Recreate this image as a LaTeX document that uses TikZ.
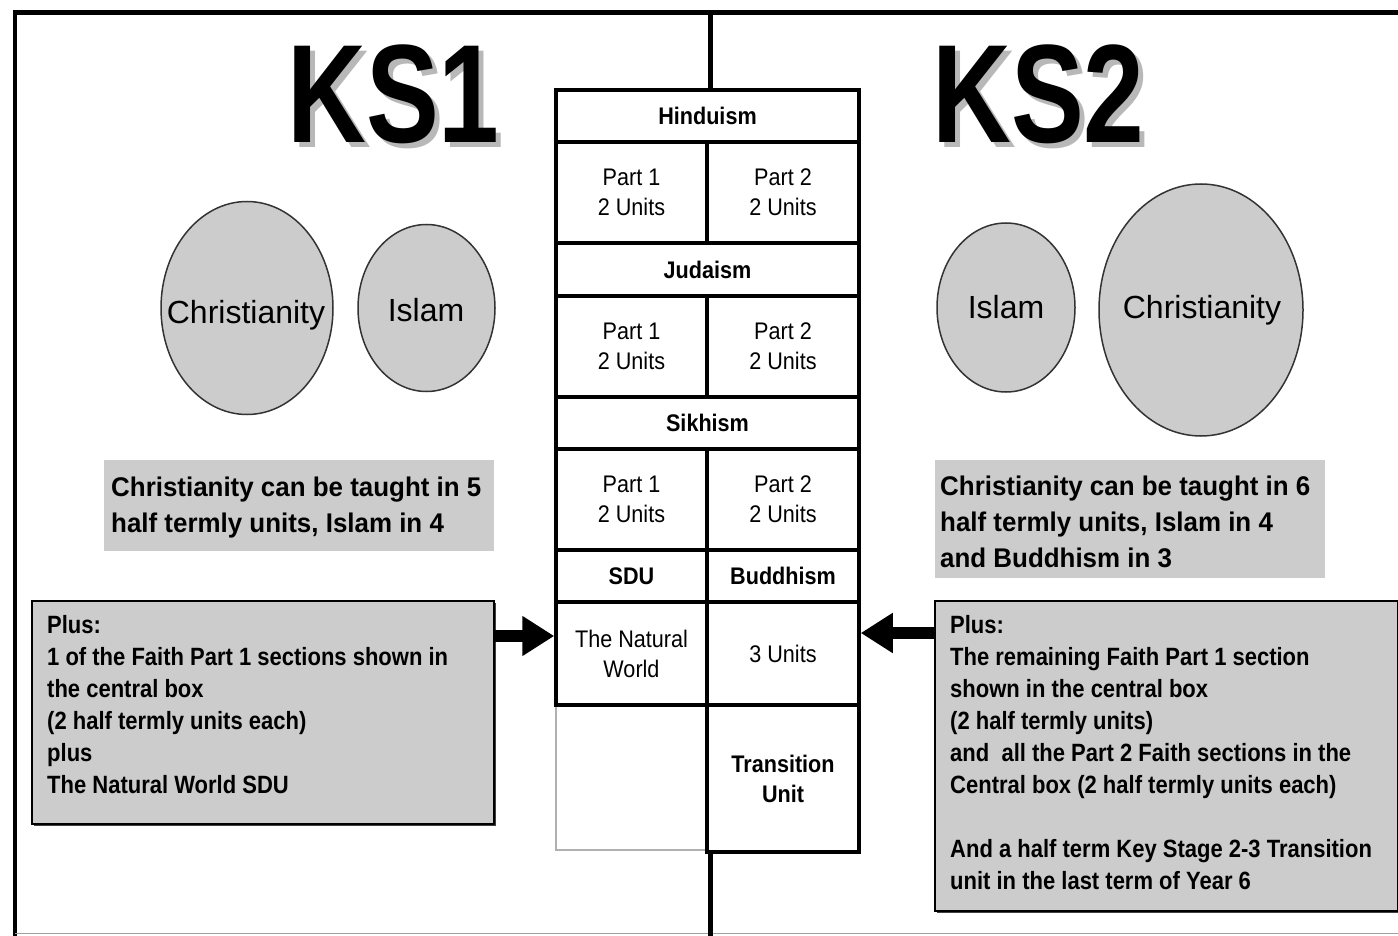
\documentclass[tikz,border=0pt]{standalone}
\usepackage{fontspec}
\setmainfont{Liberation Sans}
\newfontfamily\titlefont{Liberation Sans}[FakeStretch=0.78]
\newfontfamily\plusfont{Liberation Sans}[FakeStretch=0.88]
\newfontfamily\tabfont{Liberation Sans}[FakeStretch=0.9]
\newfontfamily\notefont{Liberation Sans}[FakeStretch=0.96]
\usetikzlibrary{shapes.geometric,arrows.meta,shadows}
\definecolor{boxgrey}{HTML}{CCCCCC}
\definecolor{ringgrey}{HTML}{333333}
\definecolor{titleshadow}{HTML}{B8B8B8}
\definecolor{framegrey}{HTML}{A0A0A0}
\definecolor{emptygrey}{HTML}{B0B0B0}
\begin{document}
\begin{tikzpicture}[x=1pt,y=-1pt,
  faith/.style={ellipse, draw=ringgrey, line width=1.5pt, fill=boxgrey, inner sep=0pt},
  faithlabel/.style={font=\fontsize{32}{38}\selectfont, inner sep=0pt, anchor=base},
  note/.style={fill=boxgrey, inner sep=0pt, anchor=north west},
  notetext/.style={anchor=north west, inner sep=0pt, align=left, font=\notefont\bfseries\fontsize{27}{36}\selectfont},
  plusbox/.style={fill=boxgrey, draw=black, line width=1.5pt, inner sep=0pt, anchor=north west,
    drop shadow={shadow xshift=2pt, shadow yshift=-2pt, fill=black!75, opacity=1}},
  plustext/.style={anchor=north west, inner sep=0pt, align=left, font=\plusfont\bfseries\fontsize{25}{32}\selectfont},
  cell/.style={draw=black, line width=3.5pt, inner sep=0pt, align=center, font=\tabfont\fontsize{24}{30}\selectfont},
  headcell/.style={cell, font=\tabfont\bfseries\fontsize{24}{30}\selectfont},
  bigarrow/.style={line width=12pt, -{Triangle[length=32pt, width=38pt]}},
  titletext/.style={anchor=base west, inner sep=0pt, font=\titlefont\bfseries\fontsize{140}{140}\selectfont},
]
\useasboundingbox (0,0) rectangle (1398,936);
\fill[white] (0,0) rectangle (1398,936);

% frame
\draw[line width=4.5pt] (1400,12.5) -- (15,12.5) -- (15,938);
\draw[framegrey, line width=1.5pt] (15,933.5) -- (1400,933.5);

% titles
\node[titletext, text=titleshadow] (ks1s) at (292,148) {KS1};
\node[titletext] (ks1) at (287,143) {KS1};
\node[titletext, text=titleshadow] (ks2s) at (937,148) {KS2};
\node[titletext] (ks2) at (932,143) {KS2};

% faith ellipses KS1
\node[faith, minimum width=172pt, minimum height=213pt] (c1) at (247,308) {};
\node[faithlabel] (c1t) at (246,323) {Christianity};
\node[faith, minimum width=137pt, minimum height=167pt] (i1) at (426.5,308) {};
\node[faithlabel] (i1t) at (426,321) {Islam};
% KS2
\node[faith, minimum width=138pt, minimum height=169pt] (i2) at (1006,307.5) {};
\node[faithlabel] (i2t) at (1006,318) {Islam};
\node[faith, minimum width=204pt, minimum height=252pt] (c2) at (1201,310) {};
\node[faithlabel] (c2t) at (1202,318) {Christianity};

% notes
\node[note, minimum width=390pt, minimum height=91pt] (n1) at (104,460) {};
\node[notetext] (n1t) at (111,470.8) {\strut Christianity can be taught in 5\\half termly units, Islam in 4};
\node[note, minimum width=390pt, minimum height=118pt] (n2) at (935,460) {};
\node[notetext] (n2t) at (940,469.8) {\strut Christianity can be taught in 6\\half termly units, Islam in 4\\and Buddhism in 3};

% plus boxes
\node[plusbox, minimum width=462pt, minimum height=223pt] (kp1) at (31,600) {};
\node[plustext] (kp1t) at (47,610.6) {\strut Plus:\\1 of the Faith Part 1 sections shown in\\the central box\\(2 half termly units each)\\plus\\The Natural World SDU};
\node[plusbox, minimum width=463pt, minimum height=310pt] (kp2) at (934,600) {};
\node[plustext] (kp2t) at (950,610.6) {\strut Plus:\\The remaining Faith Part 1 section\\shown in the central box\\(2 half termly units)\\and\ \ all the Part 2 Faith sections in the\\Central box (2 half termly units each)\\[32pt]And a half term Key Stage 2-3 Transition\\unit in the last term of Year 6};

% central table
\node[headcell, minimum width=303pt, minimum height=52pt] (hin) at (707.5,116) {Hinduism};
\node[cell, minimum width=151pt, minimum height=101pt] (hp1) at (631.5,192.5) {Part 1\\2 Units};
\node[cell, minimum width=152pt, minimum height=101pt] (hp2) at (783,192.5) {Part 2\\2 Units};
\node[headcell, minimum width=303pt, minimum height=53pt] (jud) at (707.5,269.5) {Judaism};
\node[cell, minimum width=151pt, minimum height=101pt] (jp1) at (631.5,346.5) {Part 1\\2 Units};
\node[cell, minimum width=152pt, minimum height=101pt] (jp2) at (783,346.5) {Part 2\\2 Units};
\node[headcell, minimum width=303pt, minimum height=52pt] (sik) at (707.5,423) {Sikhism};
\node[cell, minimum width=151pt, minimum height=101pt] (sp1) at (631.5,499.5) {Part 1\\2 Units};
\node[cell, minimum width=152pt, minimum height=101pt] (sp2) at (783,499.5) {Part 2\\2 Units};
\node[headcell, minimum width=151pt, minimum height=52pt] (sdu) at (631.5,576) {SDU};
\node[headcell, minimum width=152pt, minimum height=52pt] (bud) at (783,576) {Buddhism};
\node[draw=emptygrey, line width=1.5pt, minimum width=151pt, minimum height=145pt, inner sep=0pt] (emp) at (631.5,777.5) {};
\node[cell, minimum width=151pt, minimum height=103pt] (nat) at (631.5,653.5) {The Natural\\World};
\node[cell, minimum width=152pt, minimum height=103pt] (bu3) at (783,653.5) {3 Units};
\node[headcell, minimum width=152pt, minimum height=147pt] (tra) at (783,778.5) {Transition\\Unit};

% central divider
\coordinate (dtop) at (710,12.5);
\coordinate (dbot) at (710,938);
\draw[line width=5pt] (dtop) -- (dtop |- hin.north);
\draw[line width=5pt] (dbot |- tra.south) -- (dbot);

% arrows
\coordinate (a1s) at ([yshift=-36pt]kp1.north east);
\coordinate (a1e) at (a1s -| nat.west);
\draw[bigarrow] (a1s) -- (a1e);
\coordinate (a2s) at ([yshift=-33pt]kp2.north west);
\coordinate (a2e) at (a2s -| bu3.east);
\draw[bigarrow] (a2s) -- (a2e);
\end{tikzpicture}
\end{document}
